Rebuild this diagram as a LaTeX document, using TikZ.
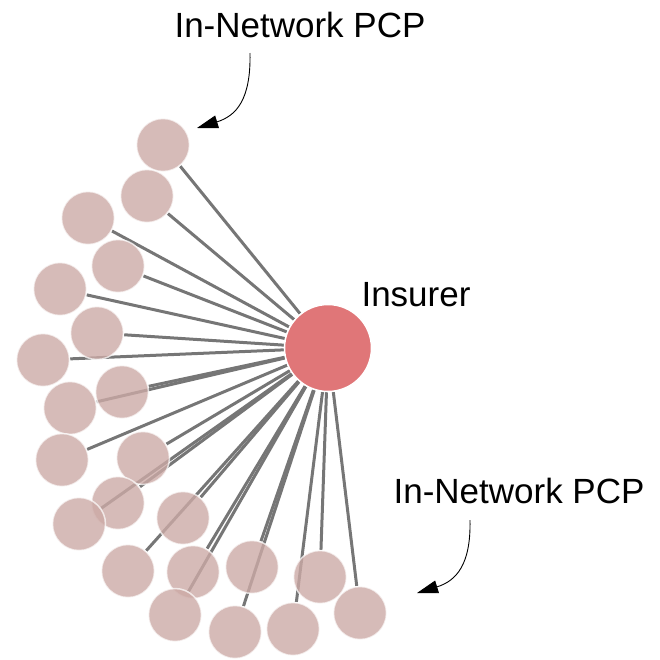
\documentclass[tikz,border=0pt]{standalone}
\usepackage{fontspec}
\setmainfont{Liberation Sans}
\usetikzlibrary{arrows.meta}
\usetikzlibrary{backgrounds}
\definecolor{pcpfill}{RGB}{204,170,166}
\definecolor{insfill}{RGB}{224,118,120}
\definecolor{linkgray}{RGB}{118,118,118}
\tikzset{pcp/.style = {circle, minimum size = 53pt, inner sep = 0pt,
                       fill = pcpfill, fill opacity = 0.8,
                       draw = white, draw opacity = 0.7, line width = 1.5pt},
         hub/.style = {circle, minimum size = 87pt, inner sep = 0pt,
                       fill = insfill, draw = white, line width = 1.5pt},
         link/.style = {draw = linkgray, line width = 3pt},
         lbl/.style = {inner sep = 0pt, font = \fontsize{35}{40}\selectfont},
         callout/.style = {-{Triangle[length = 21pt, width = 13pt]}, line width = 0.9pt}}

\begin{document}
\begin{tikzpicture}[x = 1pt, y = -1pt]
      \useasboundingbox (0, 0) rectangle (660, 659);
      \node [hub] (ins) at (328, 348) {};
      \node [pcp] (p1) at (163, 145) {};
      \node [pcp] (p2) at (147, 196) {};
      \node [pcp] (p3) at (88, 218) {};
      \node [pcp] (p4) at (118, 266) {};
      \node [pcp] (p5) at (60, 289) {};
      \node [pcp] (p6) at (97, 333) {};
      \node [pcp] (p7) at (43, 360) {};
      \node [pcp] (p8) at (122, 392) {};
      \node [pcp] (p9) at (70, 408) {};
      \node [pcp] (p10) at (62, 460) {};
      \node [pcp] (p11) at (143, 458) {};
      \node [pcp] (p12) at (118, 503) {};
      \node [pcp] (p13) at (79, 524) {};
      \node [pcp] (p14) at (183, 518) {};
      \node [pcp] (p15) at (128, 571) {};
      \node [pcp] (p16) at (193, 572) {};
      \node [pcp] (p17) at (252, 567) {};
      \node [pcp] (p18) at (175, 615) {};
      \node [pcp] (p19) at (235, 632) {};
      \node [pcp] (p20) at (293, 629) {};
      \node [pcp] (p21) at (320, 577) {};
      \node [pcp] (p22) at (360, 613) {};
      \begin{scope}[on background layer]
        \foreach \n in {1,...,22}
          \draw [link] (p\n) -- (ins);
      \end{scope}
      \node [lbl] (lblins) at (416, 295) {Insurer};
      \node [lbl] (lbltop) at (300, 25) {In-Network PCP};
      \node [lbl] (lblbot) at (519, 491) {In-Network PCP};
      \coordinate (topstart) at (250, 53);
      \coordinate (toptip) at (197, 128);
      \coordinate (botstart) at (470, 520);
      \coordinate (bottip) at (417, 593);
      \draw [callout] (topstart) .. controls (251, 100) and (236, 116) .. (toptip);
      \draw [callout] (botstart) .. controls (471, 565) and (456, 581) .. (bottip);
    \end{tikzpicture}
\end{document}
